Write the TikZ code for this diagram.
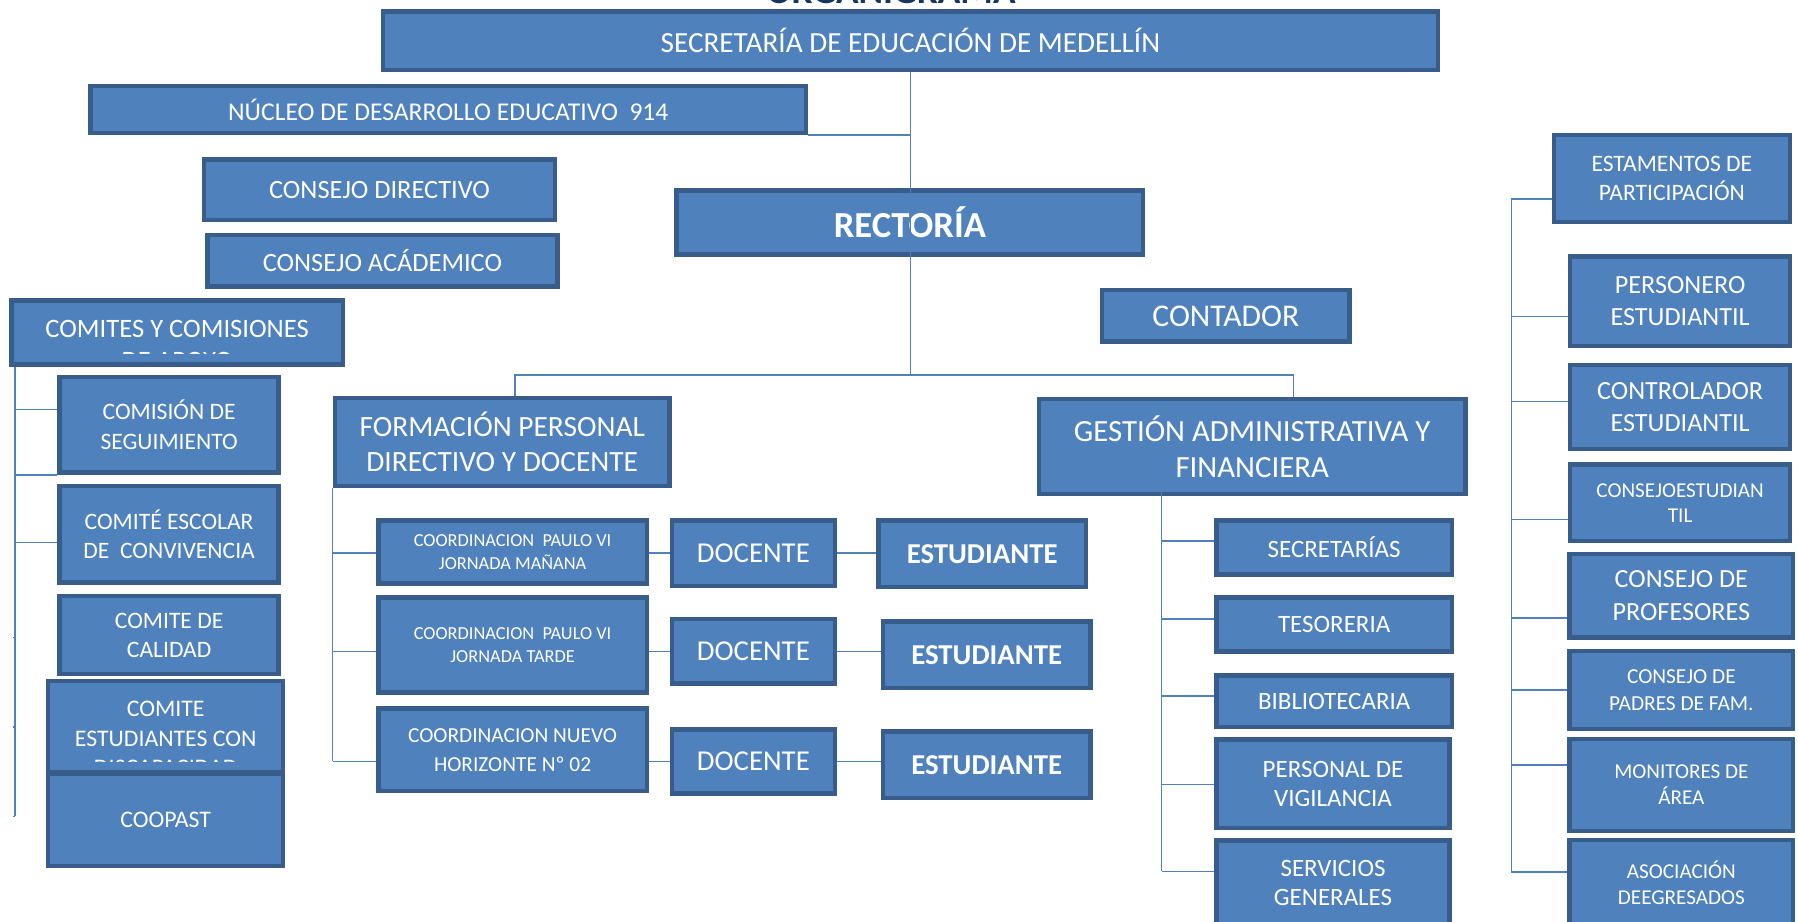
\documentclass[tikz,border=0pt]{standalone}
\usepackage{fontspec}
\setmainfont{Carlito}
\definecolor{unitfill}{RGB}{79,129,189}
\definecolor{unitline}{RGB}{56,93,138}
\definecolor{titleblue}{RGB}{23,54,93}
\newcommand\fsz[2]{\fontsize{#1}{#2}\selectfont}

\begin{document}
\begin{tikzpicture}[
  x=0.02cm, y=-0.02cm,
  unit/.style={draw=unitline, line width=2.2pt, fill=unitfill, text=white,
    align=center, inner sep=1pt},
  boxsize/.style 2 args={minimum width={(#1-4)*0.02cm}, minimum height={(#2-4)*0.02cm}},
  label text/.style={text=white, align=center},
  branch/.style={draw=unitfill, line width=0.8pt}
]
\useasboundingbox (0,0) rectangle (1568,804);

\node[font=\bfseries\fsz{18.5}{22}, text=titleblue, anchor=base] (title) at (777,3) {ORGANIGRAMA};

% top of the chart
\node[unit, boxsize={924}{55}, font=\fsz{14.5}{17}] (secretaria) at (794,35.5)
  {SECRETARÍA DE EDUCACIÓN DE MEDELLÍN};
\node[unit, boxsize={628}{45}, font=\fsz{12.7}{15}] (nucleo) at (391,95.5)
  {NÚCLEO DE DESARROLLO EDUCATIVO \ 914};
\node[unit, boxsize={310}{57}, font=\fsz{13.1}{16}] (consejodir) at (331,165.5)
  {CONSEJO DIRECTIVO};
\node[unit, boxsize={309}{49}, font=\fsz{13.1}{16}] (consejoacad) at (333.5,227.5)
  {CONSEJO ACÁDEMICO};
\node[unit, boxsize={411}{60}, font=\bfseries\fsz{18.2}{22}] (rectoria) at (793.5,194)
  {RECTORÍA};
\node[unit, boxsize={220}{49}, font=\fsz{15.7}{19}] (contador) at (1069,275.5)
  {CONTADOR};

% comites column
\node[unit, boxsize={293}{60}] (comites) at (154.5,290) {};
\begin{scope}
  \clip (10,262) rectangle (299,308);
  \node[label text, font=\fsz{13.2}{16}] at (154.5,301) {COMITES Y COMISIONES\\DE APOYO};
\end{scope}
\node[unit, boxsize={195}{87}, font=\fsz{11.7}{14.6}] (comision) at (147.5,370.5)
  {COMISIÓN DE\\SEGUIMIENTO};
\node[unit, boxsize={195}{88}, font=\fsz{11.7}{14.6}] (convivencia) at (147.5,466)
  {COMITÉ ESCOLAR\\DE \ CONVIVENCIA};
\node[unit, boxsize={195}{72}, font=\fsz{11.7}{14.6}] (calidad) at (147.5,554)
  {COMITE DE\\CALIDAD};
\node[unit, boxsize={209}{83}] (discapacidad) at (144.5,633.5) {};
\begin{scope}
  \clip (42,594) rectangle (247,664);
  \node[label text, font=\fsz{11.8}{14.8}] at (144.5,644) {COMITE\\ESTUDIANTES CON\\DISCAPACIDAD};
\end{scope}
\node[unit, boxsize={209}{84}, font=\fsz{11.8}{14.8}] (coopast) at (144.5,715)
  {COOPAST};

% formacion branch
\node[unit, boxsize={296}{81}, font=\fsz{14.6}{17.6}] (formacion) at (438,385.5)
  {FORMACIÓN PERSONAL\\DIRECTIVO Y DOCENTE};
\node[unit, boxsize={238}{59}, font=\fsz{9.1}{11.4}] (coord1) at (447,481.5)
  {COORDINACION \ PAULO VI\\JORNADA MAÑANA};
\node[unit, boxsize={238}{87}, font=\fsz{9.1}{11.4}] (coord2) at (447,562.5)
  {COORDINACION \ PAULO VI\\JORNADA TARDE};
\node[unit, boxsize={238}{76}, font=\fsz{10.6}{14.2}] (coord3) at (447,654)
  {COORDINACION NUEVO\\HORIZONTE Nº 02};
\node[unit, boxsize={146}{61}, font=\fsz{14.3}{17}] (docente1) at (657,482.5) {DOCENTE};
\node[unit, boxsize={146}{60}, font=\fsz{14.3}{17}] (docente2) at (657,568) {DOCENTE};
\node[unit, boxsize={146}{60}, font=\fsz{14.3}{17}] (docente3) at (657,664) {DOCENTE};
\node[unit, boxsize={185}{62}, font=\bfseries\fsz{14.3}{17}] (estudiante1) at (856.5,483) {ESTUDIANTE};
\node[unit, boxsize={185}{62}, font=\bfseries\fsz{14.3}{17}] (estudiante2) at (860.5,571) {ESTUDIANTE};
\node[unit, boxsize={185}{62}, font=\bfseries\fsz{14.3}{17}] (estudiante3) at (860.5,667) {ESTUDIANTE};

% gestion branch
\node[unit, boxsize={376}{87}, font=\fsz{15.3}{18.2}] (gestion) at (1092,389.5)
  {GESTIÓN ADMINISTRATIVA Y\\FINANCIERA};
\node[unit, boxsize={209}{51}, font=\fsz{12.4}{14.5}] (secretarias) at (1163.5,477.5) {SECRETARÍAS};
\node[unit, boxsize={209}{51}, font=\fsz{12.4}{14.5}] (tesoreria) at (1163.5,544.5) {TESORERIA};
\node[unit, boxsize={209}{49}, font=\fsz{12.4}{14.5}] (biblioteca) at (1163.5,611.5) {BIBLIOTECARIA};
\node[unit, boxsize={207}{81}, font=\fsz{12.4}{14.5}] (vigilancia) at (1162.5,683.5)
  {PERSONAL DE\\VIGILANCIA};
\node[unit, boxsize={207}{78}, font=\fsz{12.4}{14.5}] (servicios) at (1162.5,770)
  {SERVICIOS\\GENERALES};

% estamentos column
\node[unit, boxsize={210}{80}, font=\fsz{11.7}{14.4}] (estamentos) at (1458,155.7)
  {ESTAMENTOS DE\\PARTICIPACIÓN};
\node[unit, boxsize={196}{82}, font=\fsz{13}{16.3}] (personero) at (1465.2,262.6)
  {PERSONERO\\ESTUDIANTIL};
\node[unit, boxsize={196}{77}, font=\fsz{13}{16.3}] (controlador) at (1465.2,355)
  {CONTROLADOR\\ESTUDIANTIL};
\node[unit, boxsize={196}{71}, font=\fsz{10.5}{12.4}] (consejoest) at (1465.2,438.5)
  {CONSEJOESTUDIAN\\TIL};
\node[unit, boxsize={199}{77}, font=\fsz{13}{16.3}] (profesores) at (1466.3,519.5)
  {CONSEJO DE\\PROFESORES};
\node[unit, boxsize={199}{72}, font=\fsz{10.6}{13.3}] (padres) at (1466.3,601.7)
  {CONSEJO DE\\PADRES DE FAM.};
\node[unit, boxsize={199}{84}, font=\fsz{10.5}{12.9}] (monitores) at (1466.3,684.5)
  {MONITORES DE\\ÁREA};
\node[unit, boxsize={199}{79}, font=\fsz{10.5}{12.9}] (asociacion) at (1466.3,770)
  {ASOCIACIÓN\\DEEGRESADOS};

% main spine
\coordinate (spine) at (794,327);
\coordinate (barL) at (449,327);
\coordinate (barR) at (1128,327);
\draw[branch] (secretaria.south) -- (secretaria.south |- spine);
\draw[branch] (nucleo.south east) -- (nucleo.south east -| secretaria.south);
\draw[branch] (formacion.north -| barL) -- (barL) -- (barR) -- (gestion.north -| barR);

% comites bus
\coordinate (cbus) at (13,320);
\coordinate (cend) at (13,712);
\draw[branch] (cbus) -- (cend);
\foreach \y/\n in {357/comision,414/comision,473/convivencia} {
  \coordinate (cb) at (13,\y);
  \draw[branch] (cb) -- (cb -| \n.west);
}
\foreach \y in {556,634,712} {
  \coordinate (ct) at (13,\y);
  \draw[branch] (ct) -- ++(-2,0);
}

% formacion bus
\draw[branch] (formacion.south west) -- (formacion.south west |- docente3.west);
\foreach \i in {1,2,3} {
  \draw[branch] (formacion.south west |- docente\i.west) -- (coord\i.west |- docente\i.west);
  \draw[branch] (coord\i.east |- docente\i.west) -- (docente\i.west);
  \draw[branch] (docente\i.east) -- (docente\i.east -| estudiante\i.west);
}

% gestion bus
\coordinate (gtop) at (1013,406);
\coordinate (gend) at (1013,760);
\draw[branch] (gtop) -- (gend);
\foreach \y/\n in {472/secretarias,540/tesoreria,607/biblioteca,684/vigilancia,760/servicios} {
  \coordinate (gb) at (1013,\y);
  \draw[branch] (gb) -- (gb -| \n.west);
}

% estamentos bus
\coordinate (rtop) at (1318,173.5);
\coordinate (rend) at (1318,760.7);
\draw[branch] (rtop) -- (rend);
\foreach \y/\n in {173.5/estamentos,276/personero,350/controlador,453/consejoest,538.7/profesores,601.7/padres,667/monitores,760.7/asociacion} {
  \coordinate (rb) at (1318,\y);
  \draw[branch] (rb) -- (rb -| \n.west);
}
\end{tikzpicture}
\end{document}
